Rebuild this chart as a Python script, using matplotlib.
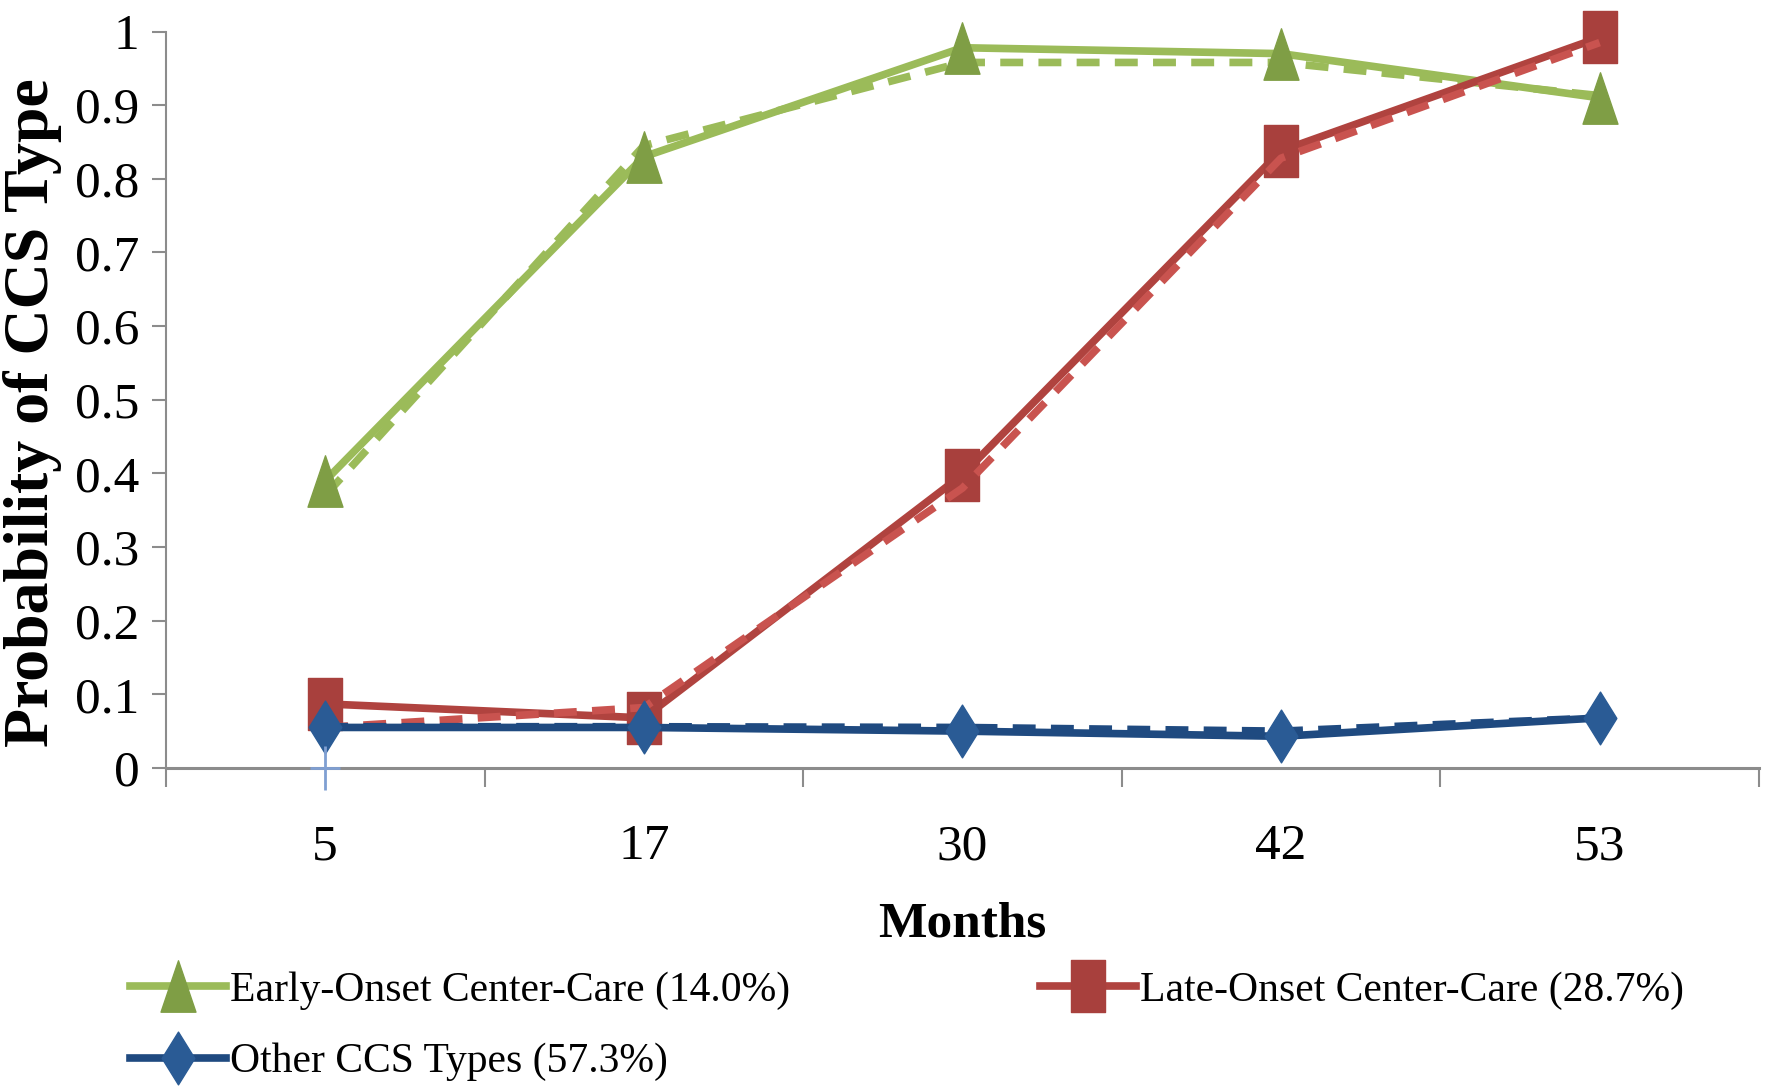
import numpy as np
import matplotlib.pyplot as plt
from matplotlib.path import Path

# === Data ===
months = ["5", "17", "30", "42", "53"]

early_fit = [0.39, 0.83, 0.978, 0.970, 0.910]
early_obs = [0.37, 0.845, 0.958, 0.958, 0.913]
late_fit = [0.087, 0.068, 0.398, 0.838, 0.992]
late_obs = [0.055, 0.082, 0.380, 0.828, 0.985]
other_fit = [0.055, 0.055, 0.050, 0.043, 0.068]
other_obs = [0.056, 0.056, 0.055, 0.050, 0.068]
stray_point = [0.0]

y_ticks = [0, 0.1, 0.2, 0.3, 0.4, 0.5, 0.6, 0.7, 0.8, 0.9, 1.0]
y_labels = ["0", "0.1", "0.2", "0.3", "0.4", "0.5", "0.6", "0.7", "0.8", "0.9", "1"]

labels = ["Early-Onset Center-Care (14.0%)",
          "Late-Onset Center-Care (28.7%)",
          "Other CCS Types (57.3%)"]

# narrow (Excel-looking) markers
tri = Path([(0, 0.5), (-0.34, -0.5), (0.34, -0.5), (0, 0.5)],
           [Path.MOVETO, Path.LINETO, Path.LINETO, Path.CLOSEPOLY])
sq = Path([(-0.33, -0.5), (0.33, -0.5), (0.33, 0.5), (-0.33, 0.5), (-0.33, -0.5)],
          [Path.MOVETO, Path.LINETO, Path.LINETO, Path.LINETO, Path.CLOSEPOLY])
dia = Path([(0, 0.5), (0.31, 0), (0, -0.5), (-0.31, 0), (0, 0.5)],
           [Path.MOVETO, Path.LINETO, Path.LINETO, Path.LINETO, Path.CLOSEPOLY])
plus = Path([(-0.33, 0), (0.33, 0), (0, -0.5), (0, 0.5)],
            [Path.MOVETO, Path.LINETO, Path.MOVETO, Path.LINETO])

plt.rcParams["font.family"] = ["Liberation Serif", "DejaVu Serif"]

fig = plt.figure(figsize=(17.67, 10.91), dpi=100)
ax = fig.add_axes([0.0939, 0.2961, 0.9015, 0.675])

x = np.arange(len(months))
lw = 5.5
dash = (3.0, 2.0)

# dashed series (no markers, no legend)
ax.plot(x, early_obs, color="#9BBB59", lw=lw, dashes=dash, zorder=2)
ax.plot(x, early_fit, color="#9BBB59", lw=lw, marker=tri, ms=37,
        mfc="#7F9E45", mec="#7F9E45", zorder=3, clip_on=False, label=labels[0])
ax.plot(x, late_fit, color="#B0433F", lw=lw, marker=sq, ms=37,
        mfc="#A8403D", mec="#A8403D", zorder=4, clip_on=False, label=labels[1])
ax.plot(x, late_obs, color="#C9534F", lw=lw, dashes=dash, zorder=5)
ax.plot(x, other_obs, color="#1F4A80", lw=lw, dashes=dash, zorder=6)
ax.plot(x, other_fit, color="#1F4A80", lw=lw, marker=dia, ms=38,
        mfc="#2A5B95", mec="#2A5B95", zorder=7, clip_on=False, label=labels[2])
ax.plot(x[:1], stray_point, linestyle="none", marker=plus, ms=32, mew=2,
        color="#7F9FD2", zorder=8, clip_on=False)

ax.set_xlim(-0.5, len(months) - 0.5)
ax.set_ylim(0, 1)

# category boundaries as ticks, labels in the middle
ax.set_xticks(np.arange(len(months) + 1) - 0.5)
ax.set_xticklabels([])
ax.set_xticks(x, minor=True)
ax.set_xticklabels(months, minor=True)
ax.tick_params(axis="x", which="major", direction="out", length=14, width=1.5, color="#8C8C8C")
ax.tick_params(axis="x", which="minor", length=0, pad=40, labelsize=37)

ax.set_yticks(y_ticks)
ax.set_yticklabels(y_labels)
ax.tick_params(axis="y", direction="out", length=10, width=1.5, color="#8C8C8C",
               pad=9, labelsize=37)

for s in ["top", "right"]:
    ax.spines[s].set_visible(False)
ax.spines["left"].set_color("#8C8C8C")
ax.spines["left"].set_linewidth(1.5)
ax.spines["bottom"].set_color("#8C8C8C")
ax.spines["bottom"].set_linewidth(2.2)

ax.set_xlabel("Months", fontsize=37, fontweight="bold", va="center")
ax.xaxis.set_label_coords(0.5, -0.212)
ax.set_ylabel("Probability of CCS Type", fontsize=46, fontweight="bold", va="center")
ax.yaxis.set_label_coords(-0.0835, 0.482)

h, l = ax.get_legend_handles_labels()
order = [0, 2, 1]
fig.legend([h[i] for i in order], [l[i] for i in order], ncol=2,
           loc="upper left", bbox_to_anchor=(0.0736, 0.110),
           frameon=False, fontsize=30, handlelength=2.3, handletextpad=0.1,
           columnspacing=6.0, labelspacing=0.8, borderpad=0, borderaxespad=0)

fig.savefig("out.png", dpi=100)
